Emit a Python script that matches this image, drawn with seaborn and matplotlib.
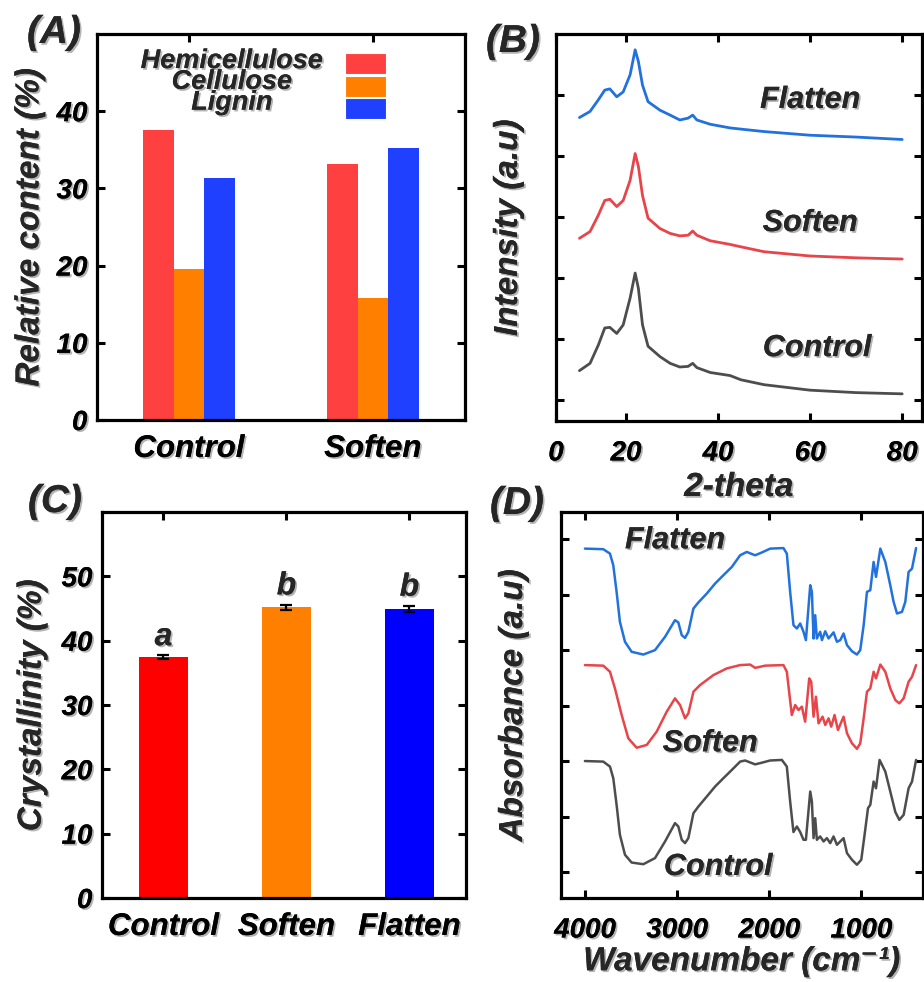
import matplotlib
matplotlib.use('Agg')
import matplotlib.pyplot as plt
import matplotlib.patheffects as pe
from matplotlib.patches import Rectangle
import seaborn as sns
import pandas as pd
import numpy as np

# ---------------- data ----------------
comp_groups = ['Control', 'Soften']
components = ['Hemicellulose', 'Cellulose', 'Lignin']
hemicellulose = [37.5, 33.2]
cellulose = [19.5, 15.8]
lignin = [31.3, 35.2]

cryst_groups = ['Control', 'Soften', 'Flatten']
cryst_mean = [37.4, 45.2, 44.9]
cryst_err = [0.3, 0.4, 0.5]
cryst_letters = ['a', 'b', 'b']

xrd_theta = [9.9, 12.2, 14.0, 15.4, 16.5, 18.0, 19.4, 20.9, 22.0, 22.7, 23.6, 24.8,
             27.4, 29.6, 31.7, 33.5, 34.5, 35.4, 38.3, 42.6, 45, 50, 60, 70, 80]
xrd_control = [1.48, 1.60, 1.90, 2.18, 2.19, 2.09, 2.23, 2.67, 3.08, 2.83, 2.23, 1.88,
               1.71, 1.60, 1.54, 1.55, 1.60, 1.53, 1.45, 1.40, 1.33, 1.25, 1.16, 1.12, 1.10]
xrd_soften = [3.65, 3.76, 4.03, 4.27, 4.29, 4.17, 4.27, 4.60, 5.04, 4.83, 4.35, 3.98,
              3.81, 3.73, 3.69, 3.70, 3.77, 3.70, 3.61, 3.55, 3.51, 3.43, 3.36, 3.33, 3.31]
xrd_flatten = [5.63, 5.73, 5.92, 6.08, 6.10, 5.97, 6.05, 6.33, 6.74, 6.55, 6.16, 5.89,
               5.75, 5.67, 5.59, 5.62, 5.67, 5.59, 5.52, 5.46, 5.44, 5.40, 5.34, 5.31, 5.27]

ftir_wn_flatten = [4000, 3801, 3728, 3692, 3656, 3620, 3565, 3493, 3366, 3239, 3130, 3022,
                   2986, 2949, 2913, 2877, 2822, 2768, 2677, 2587, 2497, 2405, 2315, 2243,
                   2152, 2080, 1989, 1845, 1808, 1772, 1736, 1699, 1663, 1627, 1601, 1554,
                   1536, 1518, 1500, 1482, 1446, 1427, 1391, 1355, 1301, 1264, 1228, 1192,
                   1155, 1101, 1047, 1011, 974, 938, 902, 866, 840, 793, 739, 685, 649, 612,
                   558, 522, 486, 449, 405]
ftir_flatten = [6.83, 6.82, 6.74, 6.53, 6.05, 5.51, 5.15, 4.97, 4.92, 5.00, 5.24, 5.54,
                5.50, 5.27, 5.22, 5.33, 5.75, 5.86, 6.02, 6.20, 6.35, 6.50, 6.71, 6.77,
                6.71, 6.76, 6.83, 6.84, 6.74, 6.05, 5.45, 5.39, 5.48, 5.33, 5.18, 6.17,
                6.05, 5.21, 5.63, 5.21, 5.33, 5.18, 5.34, 5.21, 5.32, 5.15, 5.18, 5.30,
                5.09, 4.98, 4.92, 5.00, 5.45, 6.05, 6.08, 6.59, 6.32, 6.83, 6.59, 6.17, 5.87, 5.66,
                5.69, 5.87, 6.41, 6.47, 6.84]

ftir_wn_soften = [4000, 3801, 3728, 3674, 3601, 3529, 3438, 3329, 3221, 3112, 3022, 2967,
                  2913, 2877, 2822, 2750, 2605, 2460, 2315, 2207, 2152, 2043, 1845, 1808,
                  1754, 1717, 1681, 1645, 1609, 1565, 1543, 1518, 1492, 1464, 1420, 1391,
                  1355, 1326, 1290, 1253, 1192, 1155, 1101, 1047, 1011, 974, 938, 902, 866,
                  840, 793, 739, 685, 630, 587, 540, 486, 449, 405]
ftir_soften = [4.73, 4.72, 4.61, 4.31, 3.83, 3.41, 3.24, 3.29, 3.53, 3.89, 4.13, 4.01,
               3.77, 3.86, 4.25, 4.37, 4.55, 4.67, 4.73, 4.74, 4.68, 4.72, 4.73, 4.61,
               3.83, 4.01, 3.92, 3.98, 3.71, 4.49, 4.43, 3.80, 4.16, 3.68, 3.80, 3.65,
               3.77, 3.62, 3.83, 3.56, 3.80, 3.50, 3.32, 3.22, 3.32, 3.77, 4.25, 4.31, 4.61,
               4.49, 4.74, 4.61, 4.31, 4.10, 4.04, 4.13, 4.43, 4.52, 4.73]

ftir_wn_control = [4000, 3801, 3728, 3692, 3656, 3620, 3565, 3493, 3366, 3239, 3130, 3022,
                   2986, 2949, 2913, 2877, 2822, 2768, 2677, 2587, 2497, 2405, 2315, 2261,
                   2152, 2080, 1989, 1862, 1808, 1772, 1736, 1699, 1663, 1627, 1601, 1554,
                   1536, 1518, 1500, 1482, 1446, 1409, 1373, 1337, 1301, 1264, 1228, 1192,
                   1155, 1101, 1047, 1000, 964, 927, 902, 866, 840, 801, 739, 685, 630, 587,
                   540, 486, 449, 405]
ftir_control = [3.00, 2.99, 2.90, 2.69, 2.21, 1.67, 1.31, 1.17, 1.14, 1.25, 1.55, 1.88,
                1.82, 1.58, 1.52, 1.61, 2.06, 2.18, 2.36, 2.54, 2.69, 2.84, 2.99, 3.01,
                2.94, 2.97, 3.01, 3.02, 2.90, 2.27, 1.72, 1.82, 1.72, 1.58, 1.58, 2.45,
                2.27, 1.61, 1.97, 1.58, 1.64, 1.55, 1.61, 1.52, 1.64, 1.49, 1.55, 1.61,
                1.34, 1.22, 1.13, 1.22, 1.67, 2.15, 2.21, 2.63, 2.51, 3.02, 2.81, 2.45, 2.08, 1.94,
                2.03, 2.51, 2.63, 3.02]

sample_names = ['Control', 'Soften', 'Flatten']

# ---------------- style ----------------
sns.set_theme(style='ticks')
plt.rcParams['font.family'] = ['Liberation Sans', 'DejaVu Sans']
plt.rcParams['font.weight'] = 'bold'
plt.rcParams['font.style'] = 'italic'
plt.rcParams['axes.labelweight'] = 'bold'
plt.rcParams['axes.linewidth'] = 2.3

shadow = [pe.withSimplePatchShadow(offset=(1.3, -1.3), shadow_rgbFace=(0.35, 0.35, 0.35), alpha=0.45),
          pe.Normal()]

comp_colors = ['#FF4040', '#FF8000', '#2040FF']
cryst_colors = ['#FF0000', '#FF8000', '#0000FF']
line_colors = {'Control': '#4D4D4D', 'Soften': '#E8454B', 'Flatten': '#2272DE'}

fig = plt.figure(figsize=(9.24, 9.82), dpi=100)
axA = fig.add_axes([0.105, 0.5723, 0.398, 0.3931])
axB = fig.add_axes([0.6017, 0.5713, 0.3961, 0.3941])
axC = fig.add_axes([0.1104, 0.0855, 0.3939, 0.3931])
axD = fig.add_axes([0.6071, 0.0855, 0.3918, 0.3931])


def style_axes(ax, tick_size=20):
    ax.tick_params(direction='in', top=True, right=True, length=6, width=2.2,
                   labelsize=tick_size, pad=7, colors='black')
    for s in ax.spines.values():
        s.set_linewidth(2.3)
        s.set_color('black')


def shadow_texts(ax):
    for t in ax.get_xticklabels() + ax.get_yticklabels():
        t.set_path_effects(shadow)
    ax.xaxis.label.set_path_effects(shadow)
    ax.yaxis.label.set_path_effects(shadow)


# ---------------- (A) ----------------
df_comp = pd.DataFrame({
    'group': comp_groups * 3,
    'component': [c for c in components for _ in comp_groups],
    'value': hemicellulose + cellulose + lignin,
})
sns.barplot(data=df_comp, x='group', y='value', hue='component', hue_order=components,
            palette=comp_colors, width=0.5, saturation=1, linewidth=0, legend=False, ax=axA)
axA.set_xlim(-0.5, 1.5)
axA.set_ylim(0, 50)
axA.set_yticks([0, 10, 20, 30, 40])
style_axes(axA)
axA.tick_params(axis='x', labelsize=22.5, pad=10)
axA.set_xlabel('')
axA.set_ylabel('Relative content (%)', fontsize=24, labelpad=8)
# legend: colour keys on the right, names stacked and centred on the left
leg_y = [0.923, 0.864, 0.806]
for comp, col, yy in zip(components, comp_colors, leg_y):
    axA.add_patch(Rectangle((0.674, yy - 0.027), 0.111, 0.054, transform=axA.transAxes,
                            facecolor=col, edgecolor='white', linewidth=0.8))
axA.text(0.367, 0.876, '\n'.join(components), transform=axA.transAxes, ha='center',
         va='center', multialignment='center', linespacing=0.74, fontsize=19.5,
         path_effects=shadow)
shadow_texts(axA)

# ---------------- (B) ----------------
df_xrd = pd.DataFrame({
    'theta': xrd_theta * 3,
    'intensity': xrd_control + xrd_soften + xrd_flatten,
    'sample': [s for s in sample_names for _ in xrd_theta],
})
sns.lineplot(data=df_xrd, x='theta', y='intensity', hue='sample', palette=line_colors,
             estimator=None, linewidth=2.0, legend=False, ax=axB)
axB.set_xlim(4.8, 84.3)
axB.set_ylim(0.655, 7.0)
axB.set_xticks([4.8, 20, 40, 60, 80])
axB.set_xticklabels(['0', '20', '40', '60', '80'])
axB.set_yticks([1, 2, 3, 4, 5, 6])
axB.set_yticklabels([])
style_axes(axB)
axB.tick_params(axis='x', pad=14)
axB.set_xlabel('2-theta', fontsize=24, labelpad=4)
axB.set_ylabel('Intensity (a.u)', fontsize=24, labelpad=16)
for name, xx, yy in [('Flatten', 60, 5.92), ('Soften', 60, 3.90), ('Control', 61.5, 1.85)]:
    axB.text(xx, yy, name, ha='center', va='center', fontsize=22, path_effects=shadow)
shadow_texts(axB)

# ---------------- (C) ----------------
sns.barplot(x=cryst_groups, y=cryst_mean, hue=cryst_groups, palette=cryst_colors,
            width=0.4, saturation=1, linewidth=0, legend=False, ax=axC)
axC.errorbar(np.arange(len(cryst_groups)), cryst_mean, yerr=cryst_err, fmt='none',
             ecolor='black', elinewidth=1.6, capsize=4, capthick=1.6, zorder=5)
for i, (m, e, letter) in enumerate(zip(cryst_mean, cryst_err, cryst_letters)):
    axC.text(i, m + e + 1.6, letter, ha='center', va='baseline', fontsize=23,
             path_effects=shadow)
axC.set_xlim(-0.5, 2.46)
axC.set_ylim(0, 60)
axC.set_yticks([0, 10, 20, 30, 40, 50])
style_axes(axC)
axC.tick_params(axis='x', labelsize=22.5, pad=10)
axC.set_ylabel('Crystallinity (%)', fontsize=24, labelpad=10)
shadow_texts(axC)

# ---------------- (D) ----------------
df_ftir = pd.DataFrame({
    'wn': ftir_wn_control + ftir_wn_soften + ftir_wn_flatten,
    'abs': ftir_control + ftir_soften + ftir_flatten,
    'sample': ['Control'] * len(ftir_wn_control) + ['Soften'] * len(ftir_wn_soften)
              + ['Flatten'] * len(ftir_wn_flatten),
})
sns.lineplot(data=df_ftir, x='wn', y='abs', hue='sample', palette=line_colors,
             estimator=None, linewidth=1.8, legend=False, ax=axD)
axD.set_xlim(4260, 330)
axD.set_ylim(0.53, 7.49)
axD.set_xticks([4000, 3000, 2000, 1000])
axD.set_yticks([1, 2, 3, 4, 5, 6, 7])
axD.set_yticklabels([])
style_axes(axD)
axD.tick_params(axis='x', pad=14)
axD.set_xlabel('Wavenumber (cm\u207b\u00b9)', fontsize=24, labelpad=2)
axD.set_ylabel('Absorbance (a.u)', fontsize=24, labelpad=16)
for name, xx, yy in [('Flatten', 3022, 6.98), ('Soften', 2641, 3.32), ('Control', 2554, 1.09)]:
    axD.text(xx, yy, name, ha='center', va='center', fontsize=22, path_effects=shadow)
shadow_texts(axD)

# ---------------- panel letters ----------------
for lab, x, y in [('(A)', 54, 33), ('(B)', 513, 42), ('(C)', 55, 502), ('(D)', 517, 504)]:
    fig.text(x / 924, 1 - y / 982, lab, ha='center', va='center', fontsize=28,
             path_effects=shadow)

fig.savefig('out.png', dpi=100)
